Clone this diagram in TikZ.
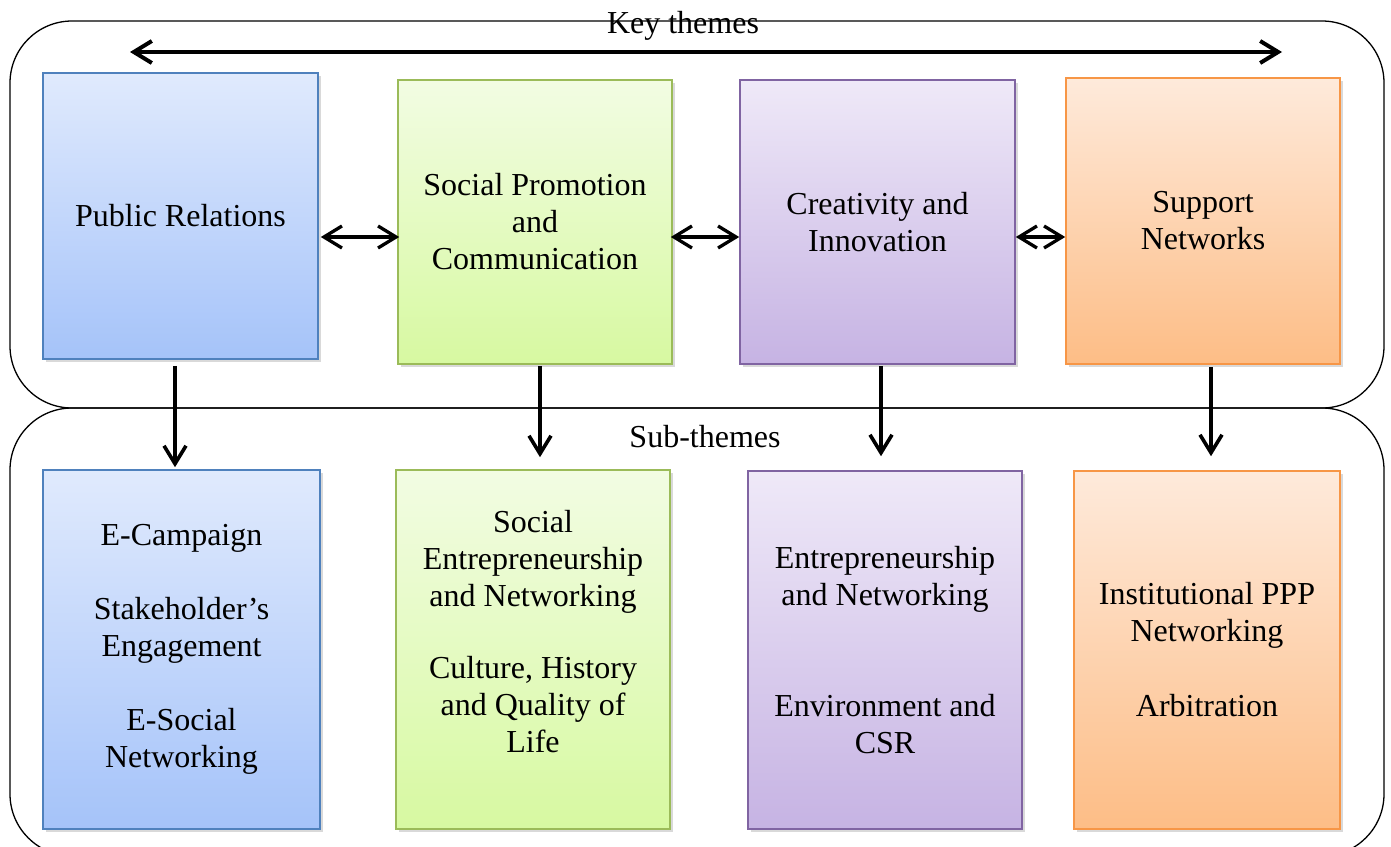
\documentclass[tikz,border=0pt]{standalone}
\usepackage{fontspec}
\setmainfont{Liberation Serif}
\usetikzlibrary{arrows.meta,shadows,calc}
\definecolor{bB}{HTML}{4F81BD}\definecolor{bT}{HTML}{E0EAFD}\definecolor{bL}{HTML}{A5C3F9}
\definecolor{gB}{HTML}{9BBB59}\definecolor{gT}{HTML}{F2FCE3}\definecolor{gL}{HTML}{D7F9A1}
\definecolor{pB}{HTML}{8064A2}\definecolor{pT}{HTML}{EFE9F8}\definecolor{pL}{HTML}{C6B3E3}
\definecolor{oB}{HTML}{F79646}\definecolor{oT}{HTML}{FEEADB}\definecolor{oL}{HTML}{FDBD86}
\tikzset{
  txt/.style={font=\fontsize{32}{37}\selectfont},
  box/.style={txt, draw, line width=1.6pt, inner sep=0pt, align=center,
    drop shadow={shadow xshift=2.5pt, shadow yshift=-3pt, opacity=0.25, fill=black!60}},
  bluebox/.style={box, draw=bB, top color=bT, bottom color=bL},
  greenbox/.style={box, draw=gB, top color=gT, bottom color=gL},
  purplebox/.style={box, draw=pB, top color=pT, bottom color=pL},
  orangebox/.style={box, draw=oB, top color=oT, bottom color=oL},
  frame/.style={draw, line width=1.3pt, rounded corners=62pt},
  conn/.style={line width=3.6pt, >={Straight Barb[length=18pt, width=22pt]}},
  both/.style={conn, <->},
  down/.style={conn, ->},
}
\begin{document}
\begin{tikzpicture}[x=1pt,y=-1pt]
\useasboundingbox (0,0) rectangle (1391,846);
\clip (0,0) rectangle (1391,846);
% frames
\draw[frame] (10,21) rectangle (1384,408);
\draw[frame] (10,408) rectangle (1384,856);
\node[txt, anchor=base] (kt) at (683,33) {Key themes};
\node[txt, anchor=base] (st) at (705,447) {Sub-themes};
% key theme boxes
\node[bluebox, minimum width=275pt, minimum height=286pt] (pr) at (180.5,216) {Public Relations};
\node[greenbox, minimum width=274pt, minimum height=284pt] (sp) at (535,222) {Social Promotion\\and\\Communication};
\node[purplebox, minimum width=275pt, minimum height=284pt] (ci) at (877.5,222) {Creativity and\\Innovation};
\node[orangebox, minimum width=274pt, minimum height=286pt] (sn) at (1203,221) {Support\\Networks};
% sub-theme boxes
\node[bluebox, minimum width=277pt, minimum height=359pt] (s1) at (181.5,649.5) {E-Campaign\\[37pt]Stakeholder’s\\Engagement\\[37pt]E-Social\\Networking};
\node[greenbox, minimum width=274pt, minimum height=359pt] (s2) at (533,649.5) {Social\\Entrepreneurship\\and Networking\\[35pt]Culture, History\\and Quality of\\Life\\\mbox{}};
\node[purplebox, minimum width=274pt, minimum height=358pt] (s3) at (885,650) {Entrepreneurship\\and Networking\\[74pt]Environment and\\CSR};
\node[orangebox, minimum width=266pt, minimum height=358pt] (s4) at (1207,650) {Institutional PPP\\Networking\\[38pt]Arbitration};
% top long arrow
\coordinate (kl) at (130,52);
\coordinate (kr) at (1282,52);
\draw[both, line width=4pt] (kl) -- (kr);
% horizontal arrows
\coordinate (hy) at (0,237);
\draw[both, line width=3.3pt] ([xshift=2pt]pr.east |- hy) -- ([xshift=2pt]sp.west |- hy);
\draw[both, line width=3.3pt] ([xshift=-2pt]sp.east |- hy) -- (ci.west |- hy);
\draw[both, line width=3.3pt] (ci.east |- hy) -- (sn.west |- hy);
% vertical arrows
\coordinate (v1) at (175,0);
\coordinate (v2) at (540,0);
\coordinate (v3) at (881,0);
\coordinate (v4) at (1211,0);
\draw[down] ($(pr.south -| v1)+(0,6)$) -- ($(s1.north -| v1)+(0,-2)$);
\draw[down] ($(sp.south -| v2)+(0,1)$) -- ($(s2.north -| v2)+(0,-12)$);
\draw[down] ($(ci.south -| v3)+(0,1)$) -- ($(s3.north -| v3)+(0,-14)$);
\draw[down] ($(sn.south -| v4)+(0,2)$) -- ($(s4.north -| v4)+(0,-14)$);
\end{tikzpicture}
\end{document}
